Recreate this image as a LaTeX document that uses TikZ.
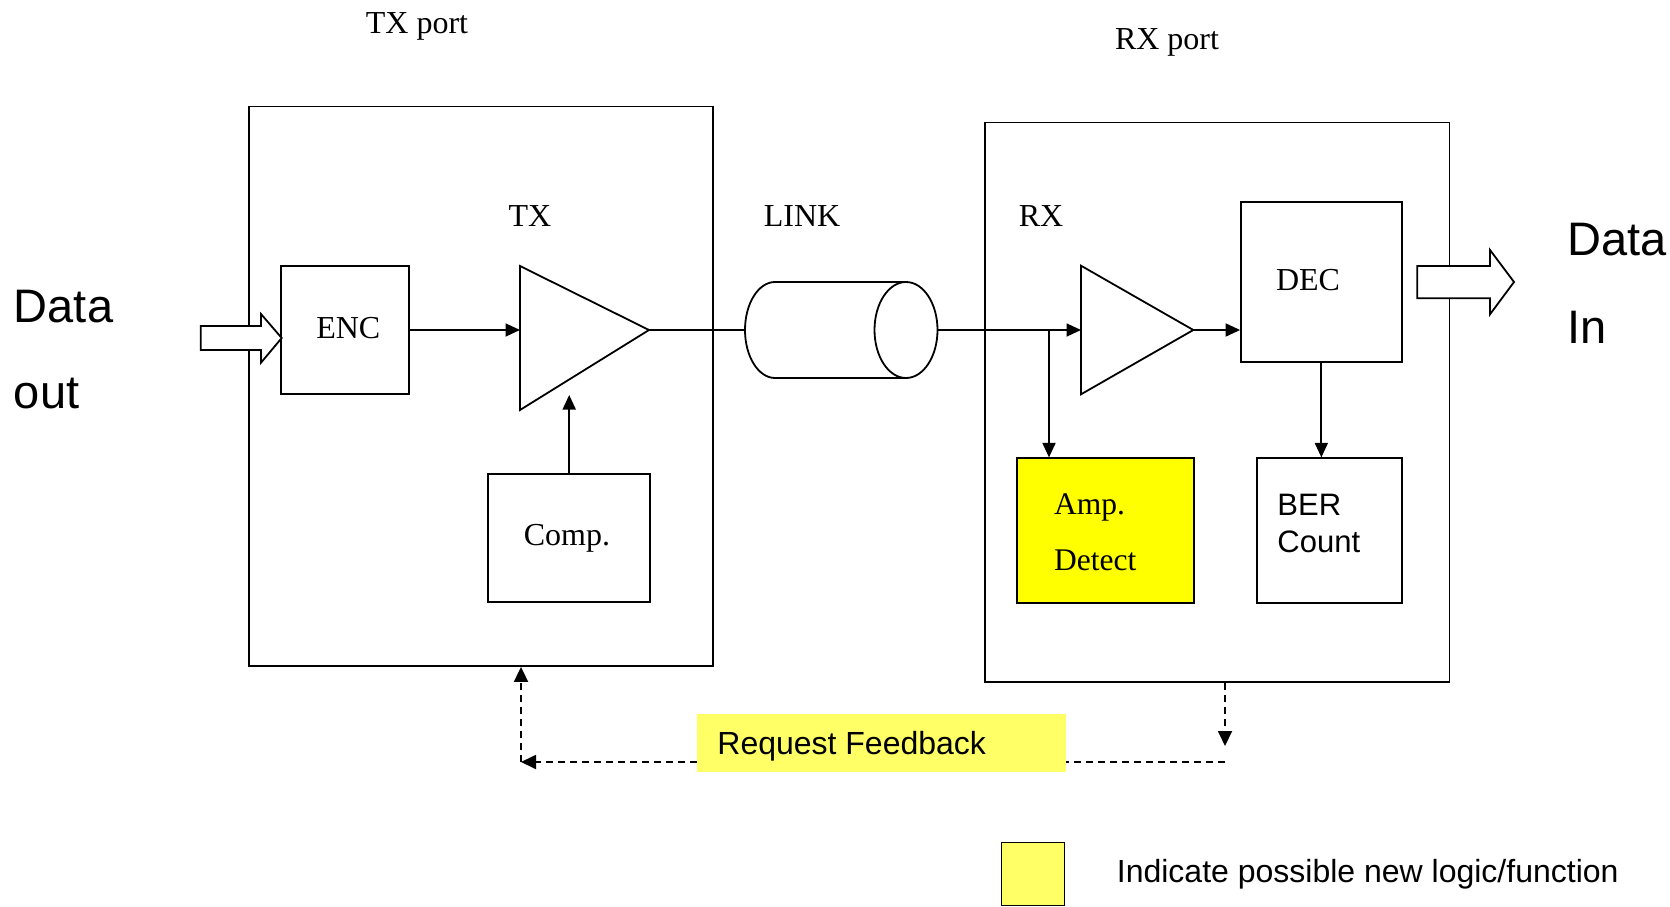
\documentclass[tikz,border=0pt]{standalone}
\usepackage{fontspec}
\setmainfont{Liberation Serif}
\newfontfamily\arialf{Liberation Sans}
\usetikzlibrary{arrows.meta}
\definecolor{hiyellow}{HTML}{FFFF00}
\definecolor{lightyellow}{HTML}{FFFF66}
\begin{document}
\begin{tikzpicture}[x=1pt,y=-1pt, line width=1.8pt,
  blk/.style={draw, rectangle, inner sep=0pt, line width=1.8pt},
  conn/.style={line width=1.8pt, -{Triangle[length=14.5pt,width=13pt]}},
  fbline/.style={line width=1.8pt, dash pattern=on 7pt off 5pt},
  fbarrow/.style={fbline, -{Triangle[length=15pt,width=14pt]}},
  serif/.style={font=\fontsize{32}{38}\selectfont, inner sep=0pt, anchor=base},
  serifsm/.style={font=\fontsize{31.5}{37}\selectfont, inner sep=0pt, anchor=base west},
  sansbig/.style={font=\arialf\fontsize{47}{56}\selectfont, inner sep=0pt, anchor=base west},
  sanssm/.style={font=\arialf\fontsize{31}{36}\selectfont, inner sep=0pt, anchor=base west},
  sansmd/.style={font=\arialf\fontsize{32}{38}\selectfont, inner sep=0pt, anchor=base west},
  fatarrow/.style={draw, fill=white, line width=1.8pt, line join=miter}]
\useasboundingbox (0,0) rectangle (1670,907);

% ports
\node[blk, minimum width=464pt, minimum height=559.5pt] (txport) at (481,386.25) {};
\node[blk, minimum width=464.5pt, minimum height=559.5pt] (rxport) at (1217.25,402.25) {};
\node[serif] (txportlbl) at (417,34) {TX port};
\node[serif] (rxportlbl) at (1167,49) {RX port};

% blocks
\node[blk, minimum width=128.3pt, minimum height=128pt] (enc) at (345.2,330) {};
\node[serif] (enclbl) at (348.3,338.3) {ENC};
\node[blk, minimum width=161.7pt, minimum height=128pt] (comp) at (569.2,538.3) {};
\node[serif] (complbl) at (567,545.7) {Comp.};
\node[blk, minimum width=160.7pt, minimum height=160pt] (dec) at (1321.35,282.3) {};
\node[serif] (declbl) at (1308,290) {DEC};
\node[blk, fill=hiyellow, minimum width=176.7pt, minimum height=144.4pt] (amp) at (1105.7,530.5) {};
\node[serifsm] (amplbl1) at (1053.3,514.3) {Amp.};
\node[serifsm] (amplbl2) at (1053.3,570.7) {Detect};
\node[blk, minimum width=145pt, minimum height=144.4pt] (ber) at (1329.2,530.5) {};
\node[sanssm] (berlbl1) at (1276.5,515) {BER};
\node[sanssm] (berlbl2) at (1276.5,552.3) {Count};

% labels
\node[serif] (txlbl) at (530,226) {TX};
\node[serif] (linklbl) at (802,226) {LINK};
\node[serif] (rxlbl) at (1041,226) {RX};

% TX amplifier
\coordinate (txtop) at (520,266);
\coordinate (txbot) at (520,410);
\coordinate (txin) at (520,330);
\coordinate (txout) at (649,330);
\draw[line join=miter] (txtop) -- (txout) -- (txbot) -- cycle;

% RX amplifier
\coordinate (rxtop) at (1081,265.7);
\coordinate (rxbot) at (1081,394.3);
\coordinate (rxin) at (1081,330);
\coordinate (rxout) at (1193.3,330);
\draw[line join=miter] (rxtop) -- (rxout) -- (rxbot) -- cycle;

% link cylinder
\coordinate (linkin) at (745,330);
\coordinate (linkout) at (937.5,330);
\draw (906,282) -- (775,282) arc[start angle=90, end angle=270, x radius=30pt, y radius=48pt] -- (906,378);
\draw (906,330) ellipse [x radius=31.5pt, y radius=48pt];

% connectors
\draw[conn] (enc.east) -- (txin);
\coordinate (comptip) at (569.2,395);
\draw[conn] (comp.north) -- (comptip);
\draw (txout) -- (linkin);
\draw[conn] (linkout) -- (rxin);
\coordinate (br) at (1049,330);
\draw[conn] (br) -- (br |- amp.north);
\draw[conn] (rxout) -- (rxout -| dec.west);
\draw[conn] (dec.south) -- (dec.south |- ber.north);

% fat arrows
\draw[fatarrow] (200.7,326) -- (261,326) -- (261,314) -- (281.7,338) -- (261,362.7) -- (261,350) -- (200.7,350) -- cycle;
\draw[fatarrow] (1417.3,266) -- (1490,266) -- (1490,250) -- (1514,282) -- (1490,314.3) -- (1490,298.3) -- (1417.3,298.3) -- cycle;

% data labels
\node[sansbig] (dout1) at (13,322) {Data};
\node[sansbig] (dout2) at (13,408) {out};
\node[sansbig] (din1) at (1566.7,255) {Data};
\node[sansbig] (din2) at (1566.7,343) {In};

% feedback path
\coordinate (fbtip) at (1225,746);
\coordinate (fbA) at (1225,762);
\coordinate (fbB) at (521,762);
\draw[fbarrow] (rxport.south -| fbA) -- (fbtip);
\draw[fbarrow] (fbA) -- (fbB);
\draw[fbarrow] (fbB) -- (txport.south -| fbB);
\node[rectangle, fill=lightyellow, inner sep=0pt, minimum width=369.3pt, minimum height=57.7pt] (req) at (881.3,742.9) {};
\node[sansmd] (reqlbl) at (716.5,754) {Request Feedback};

% legend
\node[blk, fill=lightyellow, minimum width=63pt, minimum height=63pt] (legbox) at (1033,874) {};
\node[font=\arialf\fontsize{32}{38}\selectfont, inner sep=0pt, anchor=base west] (legtxt) at (1116,882) {Indicate possible new logic/function};
\end{tikzpicture}
\end{document}
